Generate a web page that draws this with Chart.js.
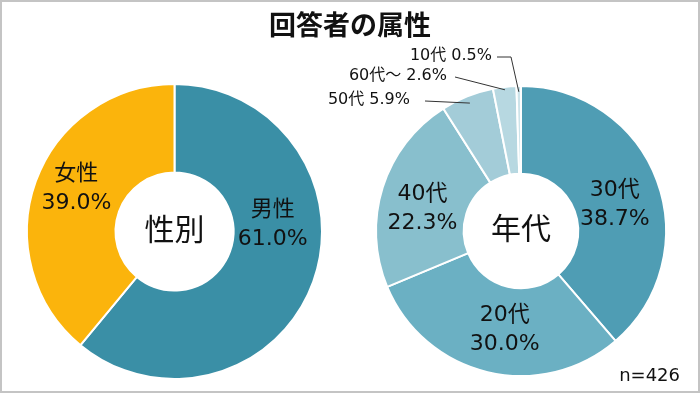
<!DOCTYPE html>
<html><head><meta charset="utf-8">
<script src="https://cdn.jsdelivr.net/npm/chart.js@4/dist/chart.umd.min.js"></script>
<style>
html,body{margin:0;padding:0;background:#fff;}
#wrap{position:relative;width:700px;height:393px;box-sizing:border-box;border:2px solid #c4c4c4;background:#fff;overflow:hidden;font-family:"DejaVu Sans","Noto Sans CJK JP",sans-serif;}
canvas{position:absolute;left:-2px;top:-2px;}
#title{position:absolute;left:0;top:4px;width:696px;text-align:center;font-family:"Noto Sans CJK JP",sans-serif;font-size:27px;font-weight:bold;color:#111;line-height:36px;}
#n{position:absolute;right:18px;top:363px;font-size:18px;line-height:20px;color:#111;}
</style></head>
<body><div id="wrap">
<canvas id="c1" width="700" height="393"></canvas>
<canvas id="c2" width="700" height="393"></canvas>
<div id="title">回答者の属性</div>
<div id="n">n=426</div>
</div>
<script>
const genderLabels = ['男性', '女性'];
const genderValues = [61.0, 39.0];
const ageLabels = ['30代', '20代', '40代', '50代', '60代～', '10代'];
const ageValues = [38.7, 30.0, 22.3, 5.9, 2.6, 0.5];

const FONT = '"DejaVu Sans","Noto Sans CJK JP",sans-serif';
const CJK = '"Noto Sans CJK JP",sans-serif';

const labelPlugin = {
  id: 'labelPlugin',
  afterDatasetsDraw(chart, args, opts) {
    const ctx = chart.ctx;
    const meta = chart.getDatasetMeta(0);
    const ds = chart.data.datasets[0];
    const labels = chart.data.labels;
    ctx.save();
    ctx.fillStyle = '#111';
    ctx.textAlign = 'center';
    ctx.textBaseline = 'middle';
    meta.data.forEach((el, i) => {
      const a = (el.startAngle + el.endAngle) / 2;
      const pct = ds.data[i].toFixed(1) + '%';
      const out = opts.outside && opts.outside[i];
      if (out) {
        const r = el.outerRadius * out.r;
        const px = el.x + r * Math.cos(a), py = el.y + r * Math.sin(a);
        ctx.font = '16px ' + FONT;
        ctx.textAlign = 'right';
        ctx.fillText(labels[i] + ' ' + pct, out.x, out.y);
        ctx.strokeStyle = '#333';
        ctx.lineWidth = 1;
        ctx.beginPath();
        ctx.moveTo(out.x + out.gap, out.y + 1);
        if (out.elbow) ctx.lineTo(out.elbow, out.y + 1);
        ctx.lineTo(px, py);
        ctx.stroke();
        ctx.textAlign = 'center';
      } else {
        const off = (opts.offsets && opts.offsets[i]) || [0, 0];
        const r = (el.innerRadius + el.outerRadius) / 2;
        const x = el.x + r * Math.cos(a) + off[0];
        const y = el.y + r * Math.sin(a) + off[1];
        const lh = opts.lineHeight;
        ctx.font = opts.fontSize + 'px ' + FONT;
        ctx.fillText(labels[i], x, y - lh / 2);
        ctx.fillText(pct, x, y + lh / 2);
      }
    });
    const c = meta.data[0];
    ctx.font = '30px ' + CJK;
    ctx.textAlign = 'center';
    ctx.fillText(opts.center, c.x, c.y - 3);
    ctx.restore();
  }
};

function makeChart(id, labels, values, colors, padding, cutout, opts) {
  return new Chart(document.getElementById(id), {
    type: 'doughnut',
    data: { labels: labels, datasets: [{ data: values, backgroundColor: colors, borderColor: '#fff', borderWidth: 2 }] },
    options: {
      responsive: false, animation: false, cutout: cutout,
      layout: { padding: padding },
      plugins: { legend: { display: false }, tooltip: { enabled: false }, labelPlugin: opts }
    },
    plugins: [labelPlugin]
  });
}

makeChart('c1', genderLabels, genderValues, ['#3a8fa6', '#fbb40c'],
  { left: 26, top: 83, right: 377, bottom: 13 }, '40%',
  { center: '性別', fontSize: 22, lineHeight: 29, offsets: [[1, -42], [-1, -8]] });

makeChart('c2', ageLabels, ageValues, ['#4f9db4', '#6bb0c3', '#88bfcd', '#a3ccd8', '#b7d8e1', '#cde4ea'],
  { left: 375, top: 85, right: 33, bottom: 16 }, '39.5%',
  { center: '年代', fontSize: 22, lineHeight: 29, offsets: [[-1, 9], [7, 0], [-2, 8]],
    outside: { 3: { x: 410, y: 100, gap: 15, r: 0.95 }, 4: { x: 447, y: 76, gap: 8, r: 0.98 }, 5: { x: 492, y: 56, gap: 5, elbow: 511, r: 0.96 } } });
</script>
</body></html>
